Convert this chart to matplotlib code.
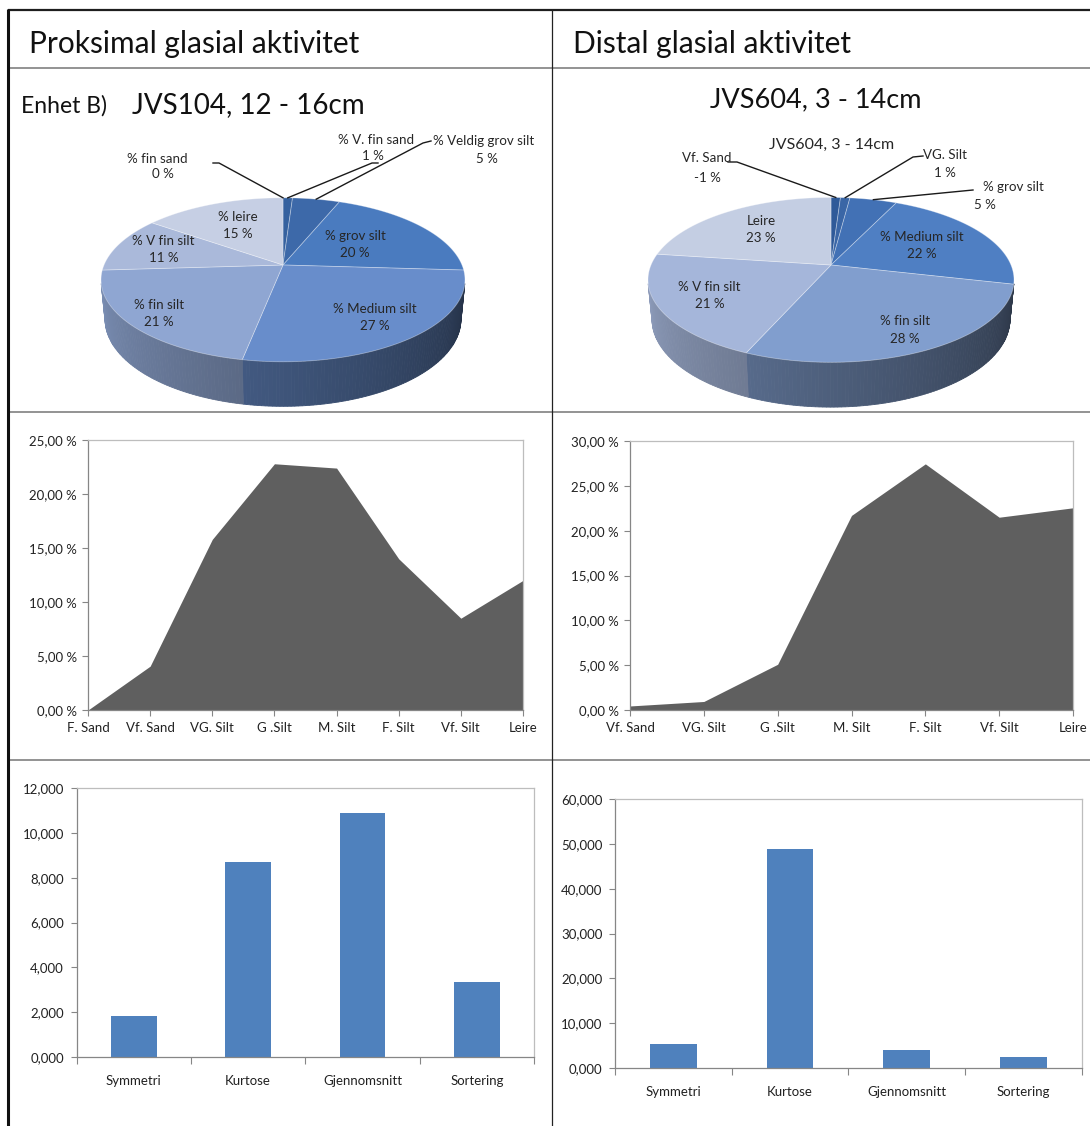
import numpy as np
import matplotlib
matplotlib.use("Agg")
import matplotlib.pyplot as plt
from matplotlib.patches import Polygon
from matplotlib.ticker import FuncFormatter
import matplotlib.colors as mcolors

plt.rcParams['font.family'] = ['Lato', 'DejaVu Sans']

# ---------------- data ----------------
prox_pie_labels = ["% fin sand", "% V. fin sand", "% Veldig grov silt", "% grov silt",
                   "% Medium silt", "% fin silt", "% V fin silt", "% leire"]
prox_pie_values = [0, 1, 5, 20, 27, 21, 11, 15]
prox_pie_colors = ["#2f5a99", "#35619f", "#3d69a9", "#4a7bbf", "#688dcb", "#8fa6d2", "#aab9da", "#c6cfe4"]

dist_pie_title = "JVS604, 3 - 14cm"
dist_pie_labels = ["Vf. Sand", "VG. Silt", "% grov silt", "% Medium silt",
                   "% fin silt", "% V fin silt", "Leire"]
dist_pie_values = [-1, 1, 5, 22, 28, 21, 23]
dist_pie_colors = ["#2f5a99", "#3a66a6", "#4271b5", "#4f7fc3", "#819ece", "#a5b6da", "#c4cee3"]

prox_area_cats = ["F. Sand", "Vf. Sand", "VG. Silt", "G .Silt", "M. Silt", "F. Silt", "Vf. Silt", "Leire"]
prox_area_vals = [0.0, 4.06, 15.8, 22.8, 22.4, 14.0, 8.5, 12.0]

dist_area_cats = ["Vf. Sand", "VG. Silt", "G .Silt", "M. Silt", "F. Silt", "Vf. Silt", "Leire"]
dist_area_vals = [0.45, 0.95, 5.1, 21.7, 27.45, 21.5, 22.55]

stat_cats = ["Symmetri", "Kurtose", "Gjennomsnitt", "Sortering"]
prox_stats = [1.85, 8.68, 10.9, 3.35]
dist_stats = [5.35, 48.9, 4.1, 2.45]

# ---------------- figure ----------------
W, H = 1090, 1126
fig = plt.figure(figsize=(W / 100, H / 100), dpi=100)
fig.patch.set_facecolor("white")

LABEL_SIZE = 9.6
TICK_SIZE = 9.5


def px_box(x0, y0, x1, y1):
    """Pixel rectangle (top-left origin) -> figure fraction box."""
    return [x0 / W, 1 - y1 / H, (x1 - x0) / W, (y1 - y0) / H]


# table frame and headings
grid = fig.add_axes([0, 0, 1, 1])
grid.set_xlim(0, W)
grid.set_ylim(H, 0)
grid.axis("off")
grid.plot([8, W], [10, 10], color="#1e1e1e", lw=1.6, solid_capstyle="butt")
for yy in (68, 412, 760):
    grid.plot([8, W], [yy, yy], color="#8a8a8a", lw=1.3, solid_capstyle="butt")
grid.plot([8, 8], [9, H], color="#111111", lw=2.2, solid_capstyle="butt")
grid.plot([552, 552], [9, H], color="#222222", lw=0.9, solid_capstyle="butt")

grid.text(29, 53, "Proksimal glasial aktivitet", fontsize=21.5, ha="left", va="baseline", color="#111")
grid.text(573, 53, "Distal glasial aktivitet", fontsize=21.5, ha="left", va="baseline", color="#111")
grid.text(21, 113, "Enhet B)", fontsize=16.5, ha="left", va="baseline", color="#111")
grid.text(132, 113, "JVS104, 12 - 16cm", fontsize=20, ha="left", va="baseline", color="#111")
grid.text(816, 107, "JVS604, 3 - 14cm", fontsize=19.5, ha="center", va="baseline", color="#111")
grid.text(832, 145, dist_pie_title, fontsize=11.5, ha="center", va="center", color="#262626")

# ---------------- 3-D pie ----------------
CAM = 4.97                 # camera distance in pie radii
TILT = np.radians(26.3)    # viewing elevation
THICK = 0.247              # pie thickness in radii
VIS_LO, VIS_HI = 103.0, 257.0   # part of the rim that faces the viewer


def project(theta, r=1.0, y=0.0):
    """Point on the pie (angle clockwise from 12 o'clock) -> 2-D view coordinates."""
    t = np.radians(theta)
    X = r * np.sin(t)
    Z = -r * np.cos(t)
    depth = CAM - (Z * np.cos(TILT) + y * np.sin(TILT))
    return CAM * X / depth, -CAM * (Z * np.sin(TILT) - y * np.cos(TILT)) / depth


def draw_pie(ax, values, colors):
    sizes = np.abs(np.asarray(values, float))
    edges = np.concatenate([[0], np.cumsum(sizes)]) / sizes.sum() * 360
    # shaded outer wall
    for i in range(len(sizes)):
        a0, a1 = max(edges[i], VIS_LO), min(edges[i + 1], VIS_HI)
        if a1 <= a0:
            continue
        ts = np.linspace(a0, a1, max(2, int(np.ceil(a1 - a0))) + 1)
        base = np.array(mcolors.to_rgb(colors[i]))
        for t0, t1 in zip(ts[:-1], ts[1:]):
            k = 0.35 + 0.5 * (0.5 * (t0 + t1) - VIS_LO) / (VIS_HI - VIS_LO)
            c = np.clip(base * k, 0, 1)
            pts = [project(t0), project(t1), project(t1, y=-THICK), project(t0, y=-THICK)]
            ax.add_patch(Polygon(pts, closed=True, fc=c, ec=c, lw=0.6))
    # top face
    for i in range(len(sizes)):
        if sizes[i] == 0:
            continue
        ts = np.linspace(edges[i], edges[i + 1], int(edges[i + 1] - edges[i]) + 3)
        pts = [project(0, r=0)] + [project(t) for t in ts]
        ax.add_patch(Polygon(pts, closed=True, fc=colors[i], ec=(1, 1, 1, 0.35), lw=0.6))
    return edges


def pie_panel(cx, cy, U, labels, values, colors, inner_r, callouts):
    ax = fig.add_axes(px_box(cx - 1.3 * U, cy - 0.8 * U, cx + 1.3 * U, cy + 0.95 * U))
    ax.set_xlim(-1.3, 1.3)
    ax.set_ylim(-0.95, 0.8)
    ax.axis("off")
    edges = draw_pie(ax, values, colors)

    def to_pie(px, py):
        return (px - cx) / U, (cy - py) / U

    for i, r in inner_r.items():
        mid = 0.5 * (edges[i] + edges[i + 1])
        x, y = project(mid, r=r)
        ax.text(x, y, f"{labels[i]}\n{values[i]} %", ha="center", va="center",
                fontsize=LABEL_SIZE, color="#262626", linespacing=1.55)
    for i, (name_xy, val_xy, path) in callouts.items():
        mid = 0.5 * (edges[i] + edges[i + 1])
        pts = [to_pie(*p) for p in path] + [project(mid)]
        ax.plot([p[0] for p in pts], [p[1] for p in pts], color="#1a1a1a", lw=1.0, clip_on=False)
        ax.text(*to_pie(*name_xy), labels[i], ha="center", va="center",
                fontsize=LABEL_SIZE, color="#262626")
        ax.text(*to_pie(*val_xy), f"{values[i]} %", ha="center", va="center",
                fontsize=LABEL_SIZE, color="#262626")
    return ax


pie_panel(283, 265, 179, prox_pie_labels, prox_pie_values, prox_pie_colors,
          inner_r={3: 0.50, 4: 0.75, 5: 0.83, 6: 0.72, 7: 0.61},
          callouts={0: ((157, 159), (163, 174), [(213, 163), (219, 163)]),
                    1: ((376, 140), (373, 156), [(378, 163), (372, 163)]),
                    2: ((484, 141), (487, 159), [(431, 141), (423, 143)])})

pie_panel(831, 265, 180, dist_pie_labels, dist_pie_values, dist_pie_colors,
          inner_r={3: 0.585, 4: 0.795, 5: 0.724, 6: 0.644},
          callouts={0: ((707, 158), (707, 178), [(728, 162), (737, 162)]),
                    1: ((945, 155), (945, 173), [(923, 156), (913, 157)]),
                    2: ((1013, 187), (985, 205), [(973, 190)])})

# ---------------- axis styling ----------------
AX_DARK = "#868686"
AX_LIGHT = "#bdbdbd"


def style_axes(ax):
    for side in ("left", "bottom"):
        ax.spines[side].set_color(AX_DARK)
        ax.spines[side].set_linewidth(0.9)
    for side in ("top", "right"):
        ax.spines[side].set_color(AX_LIGHT)
        ax.spines[side].set_linewidth(0.9)
    ax.tick_params(direction="out", length=4, width=0.8, color=AX_DARK,
                   labelsize=TICK_SIZE, labelcolor="#222222")


def area_chart(box, cats, vals, ymax):
    ax = fig.add_axes(px_box(*box))
    x = np.arange(len(cats))
    ax.fill_between(x, 0, vals, color="#5f5f5f", lw=0)
    ax.set_xlim(0, len(cats) - 1)
    ax.set_ylim(0, ymax)
    ax.set_xticks(x)
    ax.set_xticklabels(cats)
    ax.set_yticks(np.arange(0, ymax + 0.01, 5))
    ax.yaxis.set_major_formatter(FuncFormatter(lambda v, _: f"{v:.2f} %".replace(".", ",")))
    style_axes(ax)
    ax.tick_params(axis="x", pad=5)
    ax.tick_params(axis="y", pad=4)
    return ax


def bar_chart(box, cats, vals, ymax, step):
    ax = fig.add_axes(px_box(*box))
    x = np.arange(len(cats))
    ax.bar(x, vals, width=0.4, color="#4f81bd")
    ax.set_xlim(-0.5, len(cats) - 0.5)
    ax.set_ylim(0, ymax)
    ax.set_xticks(x)
    ax.set_xticklabels(cats)
    ax.set_xticks(np.arange(-0.5, len(cats), 1.0), minor=True)
    ax.set_yticks(np.arange(0, ymax + 0.01, step))
    ax.yaxis.set_major_formatter(FuncFormatter(lambda v, _: f"{v:.3f}".replace(".", ",")))
    style_axes(ax)
    ax.tick_params(axis="x", which="major", length=0, pad=13)
    ax.tick_params(axis="x", which="minor", direction="out", length=5, width=0.8, color=AX_DARK)
    ax.tick_params(axis="y", pad=5)
    return ax


area_chart((88, 440, 523, 710), prox_area_cats, prox_area_vals, 25)
area_chart((630, 441, 1073, 710), dist_area_cats, dist_area_vals, 30)
bar_chart((76.5, 788, 534, 1057), stat_cats, prox_stats, 12, 2)
bar_chart((615, 799, 1081.5, 1068), stat_cats, dist_stats, 60, 10)

fig.savefig("out.png", dpi=100, facecolor="white")
